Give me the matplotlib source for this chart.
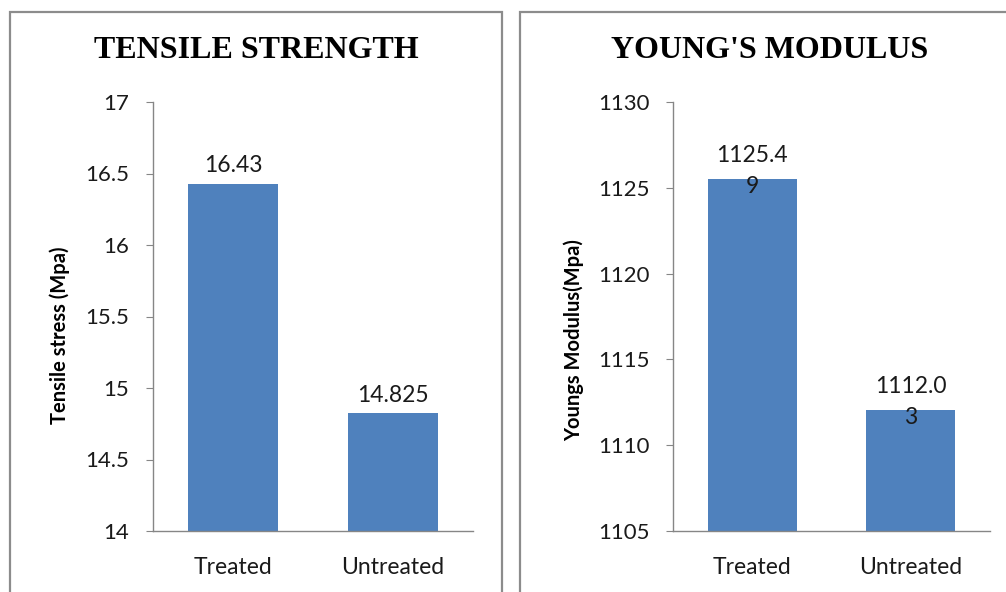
import matplotlib.pyplot as plt
from matplotlib.patches import Rectangle

# Data
categories = ['Treated', 'Untreated']
tensile = [16.43, 14.825]
youngs = [1125.49, 1112.03]
tensile_ticks = [14, 14.5, 15, 15.5, 16, 16.5, 17]
youngs_ticks = [1105, 1110, 1115, 1120, 1125, 1130]

bar_color = '#4F81BD'
axis_color = '#868686'
text_color = '#1a1a1a'
W, H = 1006, 592

plt.rcParams['font.family'] = ['Lato', 'DejaVu Sans']

fig = plt.figure(figsize=(W / 100, H / 100), dpi=100)

# Chart area frames
for x0, x1 in [(10, 502), (520, 1012)]:
    fig.patches.append(Rectangle((x0 / W, -0.05), (x1 - x0) / W, (H - 12) / H + 0.05,
                                 transform=fig.transFigure, fill=False,
                                 edgecolor='#8C8C8C', linewidth=1.6))


def wrap(s, n=6):
    # Excel-style wrap of long data labels
    return '\n'.join(s[i:i + n] for i in range(0, len(s), n))


def panel(left, width, values, ticks, title, ylabel, title_x, label_x, label_y, wrap_labels):
    ax = fig.add_axes([left / W, (H - 531) / H, width / W, 429 / H])
    x = range(len(categories))
    ax.bar(x, values, width=0.56, color=bar_color)
    ax.set_xlim(-0.5, len(categories) - 0.5)
    ax.set_ylim(ticks[0], ticks[-1])
    ax.set_yticks(ticks)
    ax.set_yticklabels([f'{t:g}' for t in ticks])
    ax.set_xticks(list(x))
    ax.set_xticklabels(categories)
    for s in ['top', 'right']:
        ax.spines[s].set_visible(False)
    for s in ['left', 'bottom']:
        ax.spines[s].set_color(axis_color)
        ax.spines[s].set_linewidth(1.0)
    ax.tick_params(axis='y', length=5, colors=axis_color, labelcolor=text_color,
                   labelsize=16, pad=12)
    ax.tick_params(axis='x', length=0, labelsize=16.5, pad=19, labelcolor=text_color)
    ax.set_ylabel(ylabel, fontsize=14.5, fontweight='bold')
    ax.yaxis.set_label_coords(label_x, label_y)
    for i, v in enumerate(values):
        txt = f'{v:g}'
        if wrap_labels:
            ax.annotate(wrap(txt), (i, v), xytext=(0, 6), textcoords='offset points',
                        ha='center', va='center', fontsize=16.5, linespacing=1.62,
                        color=text_color)
        else:
            ax.annotate(txt, (i, v), xytext=(0, 8), textcoords='offset points',
                        ha='center', va='baseline', fontsize=16.5, color=text_color)
    fig.text(title_x / W, (H - 50) / H, title, ha='center', va='center',
             fontsize=23, fontweight='bold', family='Liberation Serif')
    return ax


panel(153, 320, tensile, tensile_ticks, 'TENSILE STRENGTH', 'Tensile stress (Mpa)',
      256, -0.26, 0.457, False)
panel(673, 317, youngs, youngs_ticks, "YOUNG'S MODULUS", 'Youngs Modulus(Mpa)',
      770, -0.28, 0.445, True)

fig.savefig('out.png', dpi=100)
